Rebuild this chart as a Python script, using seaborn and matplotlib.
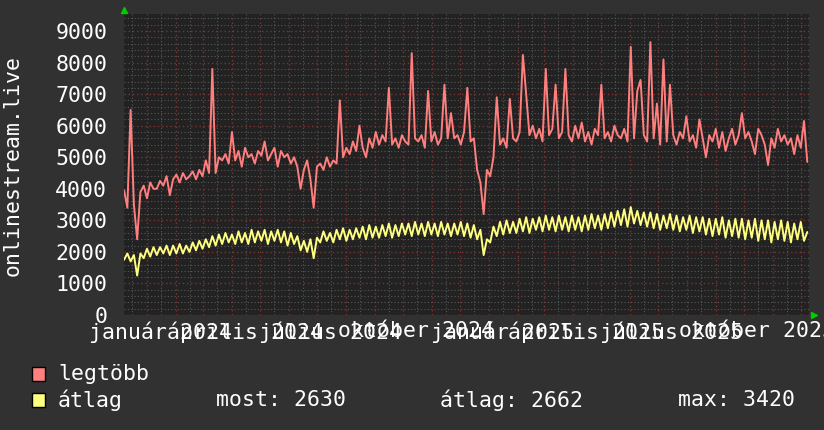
import numpy as np
import pandas as pd
import seaborn as sns
import matplotlib
matplotlib.use("Agg")
import matplotlib.pyplot as plt
import matplotlib.dates as mdates
from matplotlib.ticker import MultipleLocator, NullFormatter
from matplotlib.patches import Rectangle

start_time = "2023-12-07 12:00"
legtobb = [
    3950, 3400, 6500, 3500, 2400, 3900, 4100, 3700, 4200, 4000,
    4000, 4250, 4100, 4400, 3800, 4300, 4450, 4200, 4500, 4300,
    4400, 4550, 4300, 4600, 4400, 4900, 4500, 7800, 4500, 5000,
    4900, 5100, 4800, 5800, 4900, 5200, 4700, 5300, 5000, 5100,
    4800, 5200, 5050, 5500, 4900, 5100, 5300, 4700, 5200, 5000,
    5100, 4800, 5000, 4700, 4000, 4600, 4900, 4300, 3400, 4700,
    4800, 4600, 5000, 4700, 4900, 4800, 6800, 5000, 5300, 5100,
    5500, 5200, 6000, 5300, 5000, 5600, 5300, 5800, 5400, 5700,
    5500, 7200, 5400, 5600, 5300, 5700, 5500, 5400, 8300, 5600,
    5500, 5700, 5300, 7100, 5500, 5800, 5400, 5600, 7300, 5600,
    6400, 5600, 5700, 5400, 5800, 7200, 5500, 5600, 4600, 4200,
    3200, 4600, 4400, 5000, 6900, 5400, 5600, 5300, 6850, 5600,
    5500, 5800, 8240, 7000, 5700, 6000, 5600, 5900, 5500, 7800,
    5700, 5900, 7300, 5600, 5800, 7800, 5700, 5500, 6000, 5600,
    6100, 5500, 5800, 5400, 5900, 5700, 7300, 5600, 5800, 5500,
    6000, 5700, 5600, 5900, 5500, 8500, 5600, 7100, 7450, 5700,
    5500, 8650, 5600, 6700, 5400, 8100, 5500, 7300, 5700, 5400,
    5800, 5600, 6300, 5500, 5700, 5300, 6200, 5600, 5000, 5700,
    5500, 5900, 5300, 5800, 5200, 5600, 5900, 5400, 5700, 6400,
    5600, 5800, 5500, 5100, 5900, 5700, 5400, 4750, 5600, 5300,
    5900, 5500, 5700, 5400, 5600, 5100, 5700, 5300, 6150, 4850,
]
atlag = [
    1750, 1950, 1700, 1900, 1250, 1950, 1800, 2100, 1850, 2150,
    1900, 2150, 1950, 2200, 1900, 2200, 1950, 2250, 1950, 2200,
    2000, 2300, 2050, 2350, 2100, 2400, 2150, 2500, 2200, 2550,
    2250, 2600, 2300, 2550, 2250, 2650, 2300, 2600, 2250, 2700,
    2300, 2650, 2350, 2700, 2250, 2650, 2350, 2700, 2300, 2650,
    2200, 2600, 2250, 2500, 2050, 2350, 2000, 2400, 1800, 2450,
    2300, 2650, 2350, 2600, 2300, 2700, 2400, 2750, 2350, 2700,
    2400, 2750, 2450, 2800, 2400, 2850, 2450, 2800, 2450, 2850,
    2500, 2900, 2450, 2850, 2500, 2900, 2550, 2900, 2500, 2950,
    2550, 2900, 2500, 2950, 2550, 2900, 2500, 2950, 2550, 2900,
    2500, 2900, 2550, 2950, 2500, 2900, 2450, 2850, 2400, 2700,
    1900, 2400, 2300, 2800, 2500, 2950, 2550, 3000, 2600, 2950,
    2600, 3050, 2650, 3100, 2600, 3050, 2700, 3100, 2650, 3150,
    2700, 3100, 2650, 3150, 2700, 3100, 2650, 3150, 2700, 3100,
    2650, 3150, 2700, 3200, 2750, 3150, 2700, 3200, 2750, 3250,
    2800, 3300, 2850, 3350, 2800, 3420, 2900, 3300, 2850, 3250,
    2800, 3250, 2750, 3200, 2700, 3150, 2750, 3200, 2700, 3150,
    2650, 3100, 2700, 3150, 2600, 3100, 2650, 3100, 2550, 3050,
    2500, 3050, 2550, 3100, 2450, 3000, 2500, 3050, 2450, 3050,
    2400, 3000, 2450, 3050, 2350, 3000, 2400, 3000, 2300, 2950,
    2400, 3000, 2350, 2950, 2300, 2900, 2400, 2950, 2350, 2630,
]
month_labels = ["január 2024", "április 2024", "július 2024", "október 2024",
                "január 2025", "április 2025", "július 2025", "október 2025"]
label_dates = ["2024-01-01", "2024-04-01", "2024-07-01", "2024-10-01",
               "2025-01-01", "2025-04-01", "2025-07-01", "2025-10-01"]
series_names = ["legtöbb", "átlag"]
series_colors = ["#ff7f7f", "#ffff7f"]
stats = ["most: 2630", "átlag: 2662", "max: 3420"]

dates = pd.date_range(start_time, periods=len(legtobb), freq="84h")
df = pd.DataFrame({"idő": dates, "legtöbb": legtobb, "átlag": atlag})
long_df = df.melt(id_vars="idő", var_name="sorozat", value_name="érték")

bg = "#313131"
plot_bg = "#222222"
sns.set_style("dark", {"axes.facecolor": plot_bg, "figure.facecolor": bg})
plt.rcParams["font.family"] = ["DejaVu Sans Mono"]
fs = 15.5

fig = plt.figure(figsize=(8.24, 4.30), dpi=100)
ax = fig.add_axes([124 / 824, 1 - 315 / 430, 685 / 824, 301 / 430])
ax.set_facecolor(plot_bg)

sns.lineplot(data=long_df, x="idő", y="érték", hue="sorozat",
             hue_order=series_names, palette=series_colors,
             linewidth=1.4, legend=False, ax=ax)

ax.set_xlim(pd.Timestamp("2023-12-07 10:00"), pd.Timestamp("2025-12-09 20:00"))
ax.set_ylim(0, 9540)

# grid: red dotted majors, grey dotted minors
ax.xaxis.set_major_locator(mdates.MonthLocator())
ax.xaxis.set_minor_locator(mdates.DayLocator(bymonthday=[16]))
ax.yaxis.set_major_locator(MultipleLocator(1000))
ax.yaxis.set_minor_locator(MultipleLocator(200))
ax.grid(which="major", color="#7a3535", linestyle=(0, (1, 2)), linewidth=1)
ax.grid(which="minor", color="#585858", linestyle=(0, (1, 2)), linewidth=0.8)
ax.set_axisbelow(True)
ax.xaxis.set_major_formatter(NullFormatter())
ax.tick_params(axis="both", which="both", length=0)
ax.tick_params(axis="y", labelcolor="white", labelsize=fs, pad=12)
for lab in ax.get_yticklabels():
    lab.set_fontfamily("DejaVu Sans Mono")
ax.set_xlabel("")
ax.set_ylabel("")
for s in ax.spines.values():
    s.set_visible(False)

# overlapping month labels, as rrdtool draws them
for d, t in zip(label_dates, month_labels):
    ax.text(pd.Timestamp(d) + pd.Timedelta(days=14.5), -0.02, t,
            transform=ax.get_xaxis_transform(), ha="center", va="top",
            color="white", fontsize=fs, clip_on=False)

# green axis arrows
ax.plot([0], [1.012], marker="^", color="#00cc00", markersize=5,
        transform=ax.transAxes, clip_on=False)
ax.plot([1.0066], [0], marker=">", color="#00cc00", markersize=5,
        transform=ax.transAxes, clip_on=False)

fig.text(13 / 824, 1 - 166 / 430, "onlinestream.live", rotation=90,
         ha="center", va="center", color="white", fontsize=fs)

# legend
for i, (name, col) in enumerate(zip(series_names, series_colors)):
    yc = 374 + 26 * i
    fig.patches.append(Rectangle((32 / 824, 1 - (yc + 7) / 430), 13 / 824, 14 / 430,
                                 transform=fig.transFigure, facecolor=col,
                                 edgecolor="black", linewidth=1))
    fig.text(58 / 824, 1 - yc / 430, name, ha="left", va="center",
             color="white", fontsize=fs)
for x0, t in zip([216, 440, 678], stats):
    fig.text(x0 / 824, 1 - 400 / 430, t, ha="left", va="center",
             color="white", fontsize=fs)

fig.savefig("out.png", dpi=100, facecolor=bg)
